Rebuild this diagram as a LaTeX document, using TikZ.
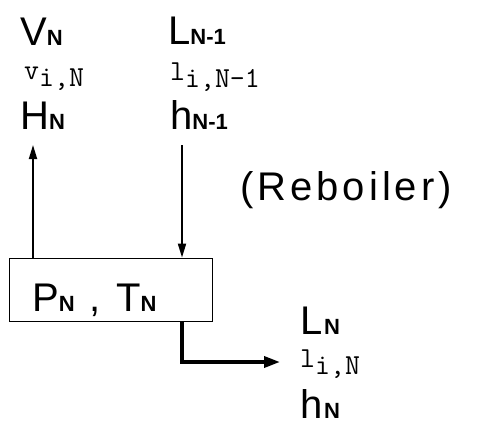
\documentclass[tikz,border=0pt]{standalone}
\usepackage{fontspec}
\setmainfont{Liberation Sans}
\newfontfamily\bigf[LetterSpace=10]{Liberation Sans}
\usetikzlibrary{arrows.meta}
\newcommand{\BigT}[1]{{\bigf\fontsize{40}{40}\selectfont #1}}
\newcommand{\Sb}[1]{{\fontsize{22}{22}\selectfont\bfseries #1}}
\newcommand{\Mo}[1]{{\ttfamily\fontsize{29}{29}\selectfont #1}}
\begin{document}
\begin{tikzpicture}[x=1pt,y=-1pt,
  lbl/.style={inner sep=0pt, anchor=base west},
  flow/.style={line width=1.8pt, -{Triangle[length=14pt,width=8pt]}},
  outflow/.style={line width=3.5pt, -{Triangle[length=16pt,width=11pt]}}]
\useasboundingbox (0,0) rectangle (477,426);
% labels
\node[lbl] (VN) at (20,45) {\BigT{V}\Sb{N}};
\node[lbl] (vN) at (24,86) {\Mo{\raisebox{7pt}{v}i,N}};
\node[lbl] (HN) at (20,129) {\BigT{H}\Sb{N}};
\node[lbl] (LN1) at (168,44) {\BigT{L}\Sb{N-1}};
\node[lbl] (lN1) at (170,87) {\Mo{\raisebox{7pt}{l}i,N-1}};
\node[lbl] (hN1) at (170,129) {\BigT{h}\Sb{N-1}};
\node[lbl] (reb) at (240,200) {\BigT{(Reboiler)}};
\node[draw, line width=1.8pt, minimum width=203pt, minimum height=63pt, inner sep=0pt] (box) at (111,290) {};
\node[lbl] (PT) at (32,311) {\BigT{P}\Sb{N}\BigT{ , T}\Sb{N}};
\node[lbl] (LN) at (300,334) {\BigT{L}\,\Sb{N}};
\node[lbl] (lN) at (300,374) {\Mo{\raisebox{7pt}{l}i,N}};
\node[lbl] (hN) at (300,418) {\BigT{h}\,\Sb{N}};
% connectors
\coordinate (vtop) at (33,145);
\coordinate (ltop) at (182,145);
\coordinate (oend) at (280,362);
\draw[flow] (box.north -| vtop) -- (vtop);
\draw[flow] (ltop) -- (box.north -| ltop);
\draw[outflow] (box.south -| ltop) |- (oend);
\end{tikzpicture}
\end{document}
